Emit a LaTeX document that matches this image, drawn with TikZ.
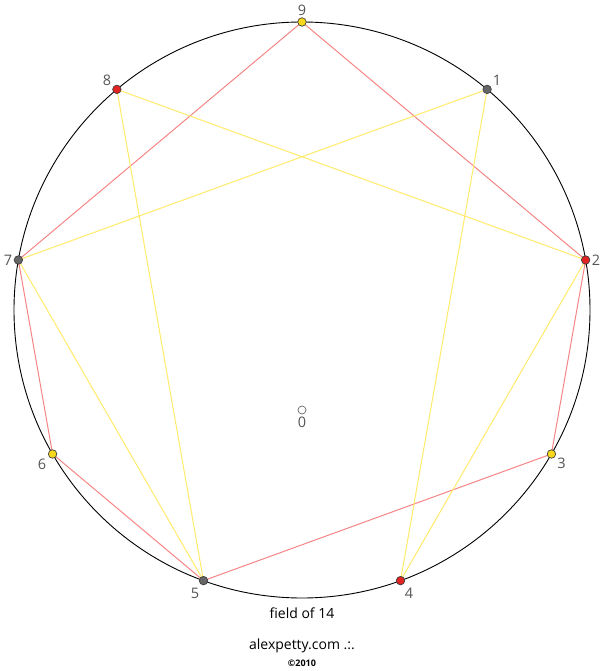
\documentclass[tikz,border=0pt]{standalone}
\usepackage{fontspec}
\setmainfont{Open Sans}
\usetikzlibrary{positioning}
\definecolor{dotred}{HTML}{E32222}
\definecolor{dotyel}{HTML}{F7D81A}
\definecolor{dotgray}{HTML}{666666}
\definecolor{linered}{HTML}{F58585}
\definecolor{lineyel}{HTML}{FFEA6A}
\definecolor{lblgray}{HTML}{555555}
\tikzset{
  dot/.style={circle, draw=black!75, line width=0.7pt, fill=#1, inner sep=0pt, minimum size=8.5pt},
  lbl/.style={text=lblgray, font=\fontsize{14.5}{14.5}\selectfont, inner sep=1.5pt},
  redline/.style={linered, line width=1pt},
  yelline/.style={lineyel, line width=1pt},
}
\begin{document}
\begin{tikzpicture}[x=1pt, y=1pt]
	\useasboundingbox (-302,-361) rectangle (302,310);
	\coordinate (C) at (0,0);

	% points on the circle
	\coordinate (p9) at (90:288);
	\coordinate (p1) at (50:288);
	\coordinate (p2) at (10:288);
	\coordinate (p3) at (-30:288);
	\coordinate (p4) at (-70:288);
	\coordinate (p5) at (-110:288);
	\coordinate (p6) at (-150:288);
	\coordinate (p7) at (170:288);
	\coordinate (p8) at (130:288);

	% field
	\draw[redline] (p9) -- (p2) -- (p3) -- (p5) -- (p6) -- (p7) -- cycle;
	\draw[yelline] (p8) -- (p2) -- (p4) -- (p1) -- (p7) -- (p5) -- cycle;
	\draw[black, line width=0.9pt] (C) circle (288);

	\node[dot=dotyel, label={[lbl]above:9}] (d9) at (p9) {};
	\node[dot=dotgray, label={[lbl]30:1}] (d1) at (p1) {};
	\node[dot=dotred, label={[lbl]right:2}] (d2) at (p2) {};
	\node[dot=dotyel, label={[lbl]-25:3}] (d3) at (p3) {};
	\node[dot=dotred, label={[lbl, inner sep=3pt]-75:4}] (d4) at (p4) {};
	\node[dot=dotgray, label={[lbl, inner sep=3pt]-105:5}] (d5) at (p5) {};
	\node[dot=dotyel, label={[lbl, inner sep=2.5pt]-145:6}] (d6) at (p6) {};
	\node[dot=dotgray, label={[lbl]left:7}] (d7) at (p7) {};
	\node[dot=dotred, label={[lbl]150:8}] (d8) at (p8) {};

	\node[dot=white, draw=black!60, minimum size=8pt, label={[lbl, inner sep=2.5pt]below:0}] (d0) at (0,-100) {};

	\node[font=\fontsize{14}{14}\selectfont] (title) at (0,-303) {field of 14};
	\node[font=\fontsize{14}{14}\selectfont] (site) at (0,-336) {alexpetty.com .:.};
	\node[font=\bfseries\fontsize{9}{9}\selectfont, below=0pt of site] (year) {©2010};
\end{tikzpicture}
\end{document}
